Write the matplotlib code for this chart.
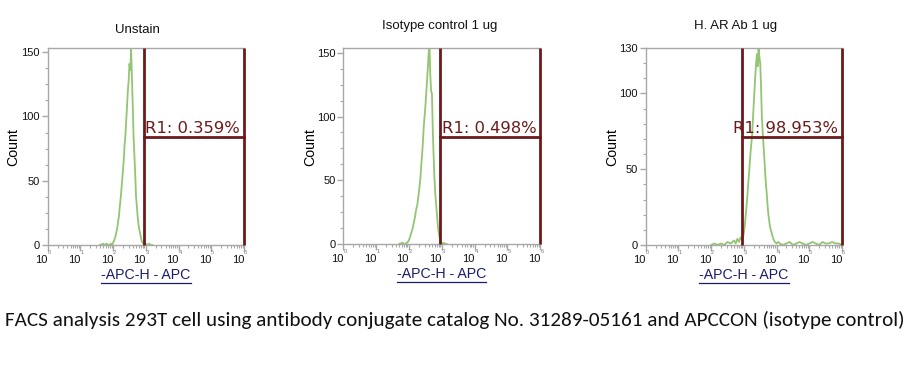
import matplotlib
matplotlib.use("Agg")
import matplotlib.pyplot as plt
import numpy as np
from matplotlib.lines import Line2D
from matplotlib import font_manager

# ---------------- data ----------------
titles = ["Unstain", "Isotype control 1 ug", "H. AR Ab 1 ug"]
gate_labels = ["R1: 0.359%", "R1: 0.498%", "R1: 98.953%"]
xlabel_text = "-APC-H - APC"
ylabel_text = "Count"
caption = ("FACS analysis 293T cell using antibody conjugate catalog No. "
           "31289-05161 and APCCON (isotype control)")

# histogram 1 (Unstain): log10 intensity, counts
h1_log = [1.60, 1.70, 1.75, 1.80, 1.85, 1.90, 1.925, 1.95, 1.975, 2.00, 2.025, 2.05, 2.075,
          2.10, 2.125, 2.15, 2.175, 2.20, 2.225, 2.25, 2.275, 2.30, 2.325,
          2.35, 2.375, 2.40, 2.425, 2.45, 2.475, 2.50, 2.525, 2.55, 2.575,
          2.60, 2.625, 2.65, 2.675, 2.70, 2.725, 2.75, 2.775, 2.80, 2.825,
          2.85, 2.875, 2.90, 2.925, 2.95, 3.00, 3.05, 3.10, 3.15, 3.20]
h1_cnt = [0, 1, 0, 1, 0, 0, 1, 1, 0, 2, 3, 5, 7,
          10, 13, 18, 22, 29, 35, 42, 50, 58, 66,
          78, 85, 97, 108, 120, 128, 141, 136, 152, 130,
          108, 84, 70, 55, 38, 30, 22, 16, 12, 9,
          6, 3, 2, 1, 0, 1, 0, 1, 0, 0]

# histogram 2 (Isotype control)
h2_log = [1.70, 1.80, 1.85, 1.90, 1.925, 1.95, 1.975, 2.00, 2.025, 2.05, 2.075,
          2.10, 2.125, 2.15, 2.175, 2.20, 2.225, 2.25, 2.275, 2.30, 2.325,
          2.35, 2.375, 2.40, 2.425, 2.45, 2.475, 2.50, 2.525, 2.55, 2.575,
          2.60, 2.625, 2.65, 2.675, 2.70, 2.725, 2.75, 2.775, 2.80, 2.825,
          2.85, 2.875, 2.90, 2.925, 2.95, 2.975, 3.00, 3.05, 3.10, 3.15]
h2_cnt = [0, 1, 0, 0, 1, 1, 2, 3, 5, 7, 9,
          11, 14, 17, 20, 24, 28, 30, 35, 40, 46,
          52, 62, 70, 80, 92, 100, 108, 118, 128, 138,
          150, 156, 132, 120, 118, 90, 70, 52, 40, 32,
          24, 16, 10, 6, 3, 1, 0, 1, 0, 0]

# histogram 3 (H. AR Ab)
h3_log = [2.00, 2.10, 2.20, 2.30, 2.40, 2.50, 2.60, 2.70, 2.75, 2.80, 2.85, 2.90, 2.95, 2.975,
          3.00, 3.025, 3.05, 3.075, 3.10, 3.125, 3.15, 3.175, 3.20, 3.225,
          3.25, 3.275, 3.30, 3.325, 3.35, 3.375, 3.40, 3.425, 3.45, 3.475,
          3.50, 3.525, 3.55, 3.575, 3.60, 3.625, 3.65, 3.675, 3.70, 3.725,
          3.75, 3.775, 3.80, 3.825, 3.85, 3.875, 3.90, 3.925, 3.95, 4.00,
          4.05, 4.10, 4.20, 4.30, 4.40, 4.50, 4.60, 4.70, 4.80, 4.90,
          5.00, 5.10, 5.20, 5.30, 5.40, 5.50, 5.60, 5.70, 5.80, 5.90, 6.00]
h3_cnt = [0, 1, 0, 1, 0, 2, 1, 3, 1, 4, 2, 5, 3, 5,
          8, 12, 18, 24, 30, 38, 45, 52, 60, 66,
          72, 82, 92, 102, 112, 120, 126, 118, 130, 124,
          120, 105, 85, 75, 66, 58, 48, 40, 34, 26,
          20, 16, 12, 10, 8, 6, 4, 3, 2, 1,
          2, 1, 0, 1, 2, 0, 1, 2, 1, 0,
          1, 2, 1, 0, 2, 1, 1, 2, 1, 1, 0]

hist_logs = [h1_log, h2_log, h3_log]
hist_cnts = [h1_cnt, h2_cnt, h3_cnt]

gate_left_log = [2.93, 2.95, 2.95]
gate_right_log = [6.0, 6.0, 6.0]
gate_level = [84, 84, 71]
ymax = [153.3, 153.8, 130]
ytick_vals = [[0, 50, 100, 150], [0, 50, 100, 150], [0, 50, 100, 130]]
xtick_exps = [0, 1, 2, 3, 4, 5, 6]

# ---------------- layout ----------------
W, H = 922, 370
fig = plt.figure(figsize=(W / 100, H / 100), dpi=100)
fig.patch.set_facecolor("white")

axes_px = [(47.7, 48, 196.3, 197), (343.3, 48, 197, 196), (645.7, 48, 196.3, 197)]
title_pos = [(0.455, 1.075), (0.489, 1.095), (0.46, 1.095)]
ylabel_x = [-0.177, -0.169, -0.169]

hist_color = "#93c572"
gate_color = "#6c1a1a"
spine_color = "#a8a8a8"
tick_font = "Liberation Sans"

installed = {f.name for f in font_manager.fontManager.ttflist}
cap_family = "Carlito" if "Carlito" in installed else "Lato"

for i in range(3):
    l, t, w, h = axes_px[i]
    ax = fig.add_axes([l / W, 1 - (t + h) / H, w / W, h / H])
    ax.set_xscale("log")
    ax.set_xlim(1, 1e6)
    ax.set_ylim(0, ymax[i])

    xs = 10 ** np.array(hist_logs[i])
    ax.plot(xs, hist_cnts[i], color=hist_color, lw=1.3, zorder=2)

    # gate
    gl, gr = 10 ** gate_left_log[i], 10 ** gate_right_log[i]
    ax.plot([gl, gl], [0, ymax[i]], color=gate_color, lw=2.0, zorder=3, clip_on=False,
            solid_capstyle="butt")
    ax.plot([gr, gr], [0, ymax[i]], color=gate_color, lw=2.0, zorder=3, clip_on=False,
            solid_capstyle="butt")
    ax.plot([gl, gr], [gate_level[i], gate_level[i]], color=gate_color, lw=2.0, zorder=3,
            clip_on=False)
    ax.annotate(gate_labels[i], xy=(gr, gate_level[i]), xytext=(-4, 4),
                textcoords="offset pixels", ha="right", va="baseline",
                color=gate_color, fontsize=11.8, family="DejaVu Sans", zorder=4)

    # spines
    for s in ["left", "top", "bottom"]:
        ax.spines[s].set_color(spine_color)
        ax.spines[s].set_linewidth(1.0)
    ax.spines["right"].set_visible(False)

    # ticks
    ax.set_xticks([10.0 ** e for e in xtick_exps])
    ax.set_xticklabels(["10"] * len(xtick_exps), ha="right")
    ax.xaxis.set_minor_locator(matplotlib.ticker.LogLocator(base=10, subs=np.arange(2, 10), numticks=20))
    ax.xaxis.set_minor_formatter(matplotlib.ticker.NullFormatter())
    ax.set_yticks(ytick_vals[i])
    ax.set_yticklabels([str(v) for v in ytick_vals[i]])
    if ymax[i] > 140:
        ax.yaxis.set_minor_locator(matplotlib.ticker.MultipleLocator(12.5))
    else:
        ax.yaxis.set_minor_locator(matplotlib.ticker.MultipleLocator(10))
    ax.tick_params(axis="both", which="major", length=4, width=1, color=spine_color,
                   labelsize=8, pad=1.5, labelcolor="#111111")
    ax.tick_params(axis="both", which="minor", length=2, width=0.8, color=spine_color)
    for lab in ax.get_xticklabels() + ax.get_yticklabels():
        lab.set_family(tick_font)
    ax.tick_params(axis="x", pad=3)

    for e in xtick_exps:
        ax.annotate(str(e), xy=(10.0 ** e, 0), xycoords=("data", "axes fraction"),
                    xytext=(0, -5), textcoords="offset pixels", ha="left", va="top",
                    fontsize=4, color="#777777", family=tick_font, annotation_clip=False)

    ax.set_ylabel(ylabel_text, fontsize=10.2, family=tick_font, va="center")
    ax.yaxis.set_label_coords(ylabel_x[i], 0.495)
    ax.set_xlabel(xlabel_text, fontsize=10.2, family=tick_font, color="#1c1c6e", va="center")
    ax.xaxis.set_label_coords(0.5, -0.152)

    ax.text(title_pos[i][0], title_pos[i][1], titles[i], transform=ax.transAxes,
            ha="center", va="baseline", fontsize=9.5, family=tick_font, color="#111111")

cap = fig.text(5 / W, 1 - 326 / H, caption, ha="left", va="baseline",
               fontsize=11, family=cap_family, color="#111111")

# fit caption width to ~900 px and underline axis labels
fig.canvas.draw()
r = fig.canvas.get_renderer()
bb = cap.get_window_extent(r)
cap.set_fontsize(11 * 900 / bb.width)
fig.canvas.draw()
for ax in fig.axes:
    lb = ax.xaxis.label.get_window_extent(r)
    yline = lb.y0 - 1
    fig.add_artist(Line2D([lb.x0 / W, lb.x1 / W], [yline / H, yline / H],
                          color="#1c1c6e", lw=0.9))

fig.savefig("out.png", dpi=100, facecolor="white")
